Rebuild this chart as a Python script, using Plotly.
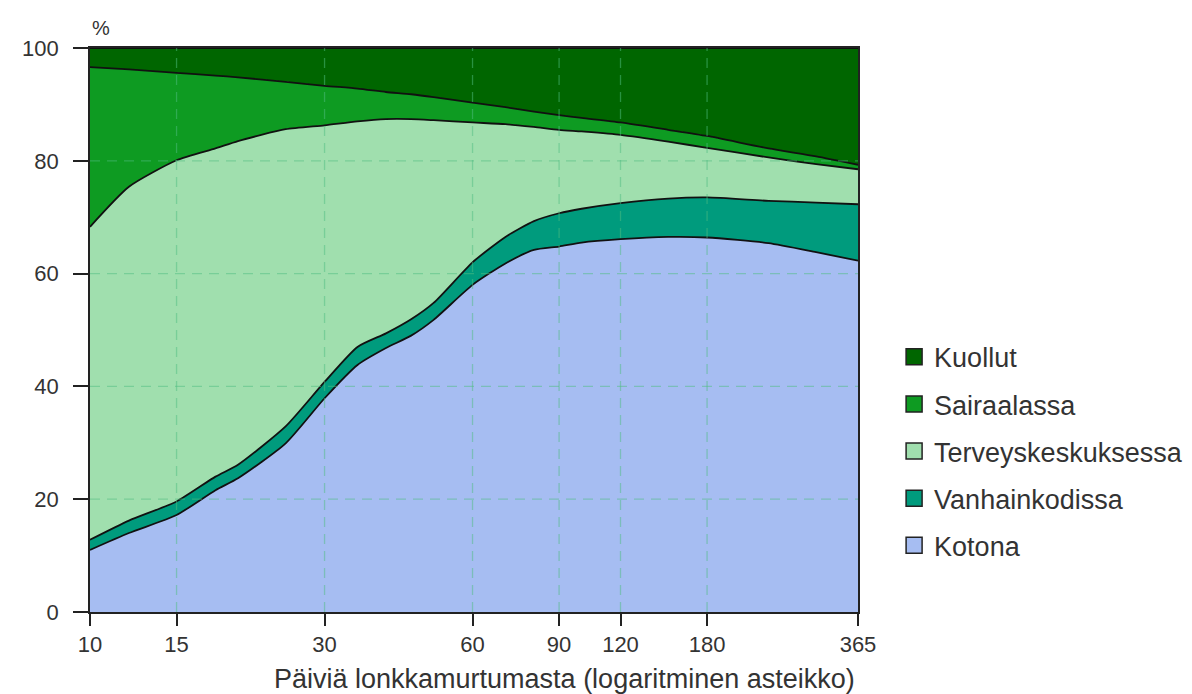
import math
import plotly.graph_objects as go

days = [10, 12, 15, 18, 20, 25, 30, 35, 40, 45, 50, 60, 70, 80, 90, 100, 120, 150, 180, 240, 300, 365]

kotona = [11.0, 14.0, 17.2, 21.6, 23.7, 29.9, 37.9, 43.8, 46.8, 49.0, 51.8, 58.0, 61.8, 64.2, 64.8, 65.5, 66.1, 66.5, 66.4, 65.4, 63.8, 62.3]
vanhainkodissa = [1.8, 2.2, 2.4, 2.4, 2.4, 3.0, 2.9, 3.2, 2.6, 2.9, 3.0, 4.0, 4.7, 5.1, 5.9, 6.0, 6.4, 6.8, 7.1, 7.5, 8.8, 10.0]
terveyskeskuksessa = [55.5, 59.2, 60.5, 58.2, 57.4, 52.7, 45.5, 40.0, 38.0, 35.5, 32.4, 24.8, 20.0, 16.7, 14.8, 13.7, 12.1, 10.1, 8.8, 7.7, 6.8, 6.2]
sairaalassa = [28.3, 20.8, 15.5, 12.9, 11.3, 8.4, 7.0, 5.8, 4.8, 4.4, 4.1, 3.5, 3.0, 2.7, 2.6, 2.4, 2.2, 2.1, 2.1, 1.6, 1.4, 0.8]
kuollut = [3.4, 3.8, 4.4, 4.9, 5.2, 6.0, 6.7, 7.2, 7.8, 8.2, 8.7, 9.7, 10.5, 11.3, 11.9, 12.4, 13.2, 14.5, 15.6, 17.8, 19.2, 20.7]

series_names = ["Kotona", "Vanhainkodissa", "Terveyskeskuksessa", "Sairaalassa", "Kuollut"]
series_values = [kotona, vanhainkodissa, terveyskeskuksessa, sairaalassa, kuollut]
series_colors = ["#a6bdf2", "#009b7d", "#a0dfae", "#0e9b22", "#006600"]

x_tick_vals = [10, 15, 30, 60, 90, 120, 180, 365]
y_tick_vals = [0, 20, 40, 60, 80, 100]

font_family = "Liberation Sans, Arial, sans-serif"
text_color = "#333333"

fig = go.Figure()
for name, vals, col in zip(series_names, series_values, series_colors):
    fig.add_trace(go.Scatter(
        x=days, y=vals, name=name, mode="lines",
        stackgroup="one", fillcolor=col,
        line=dict(color="#111111", width=1.8, shape="spline", smoothing=0.6),
        showlegend=False,
    ))

# legend entries with square swatches (top to bottom: Kuollut ... Kotona)
for name, col in zip(reversed(series_names), reversed(series_colors)):
    fig.add_trace(go.Scatter(
        x=[None], y=[None], mode="markers", name=name, legendgroup=name,
        marker=dict(symbol="square", size=16, color=col, line=dict(color="#222222", width=1.5)),
        showlegend=True,
    ))

# dashed grid lines drawn above the filled areas
grid_color = "rgba(80,190,130,0.5)"
for xv in x_tick_vals[1:-1]:
    fig.add_shape(type="line", xref="x", yref="y", x0=xv, x1=xv, y0=0, y1=100,
                  line=dict(color=grid_color, width=1.3, dash="10px,7px"), layer="above")
for yv in y_tick_vals[1:-1]:
    fig.add_shape(type="line", xref="x", yref="y", x0=days[0], x1=days[-1], y0=yv, y1=yv,
                  line=dict(color=grid_color, width=1.3, dash="10px,7px"), layer="above")

fig.update_xaxes(
    type="log", range=[math.log10(days[0]), math.log10(days[-1])],
    tickmode="array", tickvals=x_tick_vals, ticktext=[str(v) for v in x_tick_vals],
    ticks="outside", ticklen=12, tickwidth=1.5, tickcolor="#222",
    showline=True, linecolor="#222", linewidth=1.8, mirror=True,
    showgrid=False, zeroline=False,
    tickfont=dict(size=22, color=text_color, family=font_family),
)
fig.update_yaxes(
    range=[0, 100], tickmode="array", tickvals=y_tick_vals,
    ticks="outside", ticklen=15, tickwidth=1.5, tickcolor="#222",
    showline=True, linecolor="#222", linewidth=1.8, mirror=True,
    showgrid=False, zeroline=False, ticklabelstandoff=10,
    tickfont=dict(size=22, color=text_color, family=font_family),
)

fig.add_annotation(text="%", xref="paper", yref="paper", x=0, y=1, yshift=20,
                   xanchor="left", yanchor="middle", showarrow=False,
                   font=dict(size=20, color=text_color, family=font_family))
fig.add_annotation(text="Päiviä lonkkamurtumasta (logaritminen asteikko)",
                   xref="paper", yref="paper", x=0.618, y=0, yshift=-67,
                   xanchor="center", yanchor="middle", showarrow=False,
                   font=dict(size=27, color=text_color, family=font_family))

fig.update_layout(
    width=1184, height=686,
    margin=dict(l=82, r=334, t=40, b=82, autoexpand=False),
    paper_bgcolor="white", plot_bgcolor="white",
    font=dict(family=font_family, color=text_color),
    showlegend=True,
    legend=dict(
        x=1.047, y=0.495, xanchor="left", yanchor="top",
        traceorder="grouped", tracegroupgap=9,
        font=dict(size=27, color=text_color, family=font_family),
        itemwidth=30, bgcolor="rgba(0,0,0,0)",
    ),
)

fig.write_html("out.html")
